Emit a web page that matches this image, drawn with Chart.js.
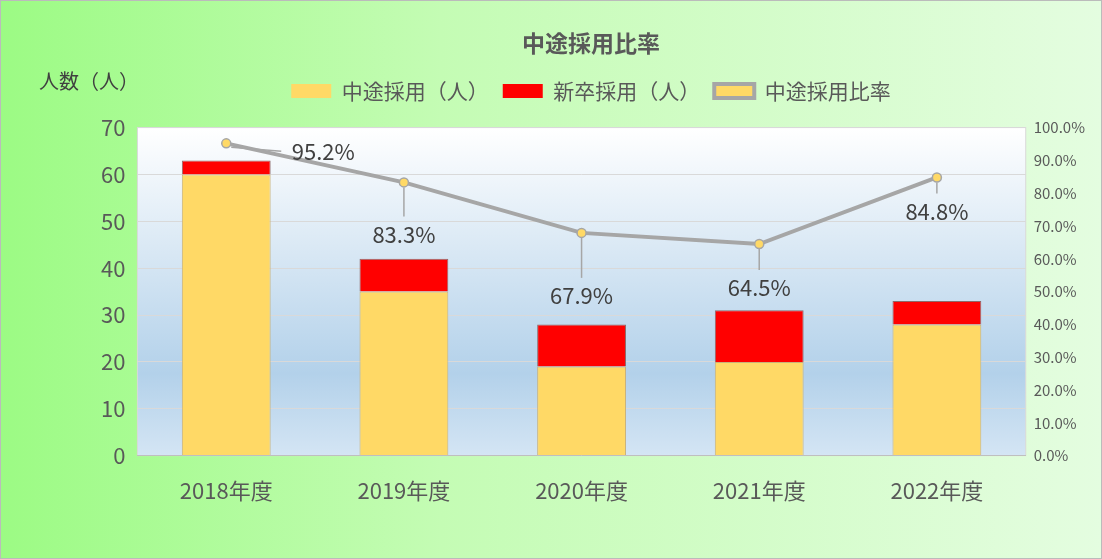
<!DOCTYPE html>
<html><head><meta charset="utf-8">
<script src="https://cdn.jsdelivr.net/npm/chart.js@4"></script>
<style>
html,body{margin:0;padding:0;}
#wrap{width:1100px;height:557px;border:1px solid #bbb;background:linear-gradient(90deg,#9cfb84 0%,#c4fcb4 40%,#e4fde0 100%);position:relative;}
</style></head><body>
<div id="wrap"><canvas id="c" width="1100" height="557"></canvas></div>
<script>
const years = ['2018年度','2019年度','2020年度','2021年度','2022年度'];
const midCareer = [60, 35, 19, 20, 28];
const newGrad = [3, 7, 9, 11, 5];
const ratio = [95.2, 83.3, 67.9, 64.5, 84.8];
// label offsets (dx, dy) from the point
const labelOffsets = [[97, 8], [0, 52], [0, 63], [0, 44], [0, 34]];

const font = '"Noto Sans CJK JP", "Noto Sans", sans-serif';

const legendGap = {
  id: 'legendGap',
  beforeInit(chart) {
    const fit = chart.legend.fit;
    chart.legend.fit = function () { fit.bind(this)(); this.height += 16; };
  }
};

const plotBg = {
  id: 'plotBg',
  beforeDraw(chart) {
    const {ctx, chartArea: a} = chart;
    const g = ctx.createLinearGradient(0, a.top, 0, a.bottom);
    g.addColorStop(0, '#ffffff');
    g.addColorStop(0.75, '#b3d1ea');
    g.addColorStop(1, '#d4e5f4');
    ctx.save();
    ctx.fillStyle = g;
    ctx.fillRect(a.left, a.top, a.right - a.left, a.bottom - a.top);
    ctx.strokeStyle = '#d9d9d9';
    ctx.strokeRect(a.left, a.top, a.right - a.left, a.bottom - a.top);
    ctx.restore();
  },
  afterDatasetsDraw(chart) {
    const {ctx} = chart;
    const meta = chart.getDatasetMeta(2);
    ctx.save();
    ctx.font = '22px ' + font;
    ctx.fillStyle = '#404040';
    ctx.textAlign = 'center';
    ctx.textBaseline = 'middle';
    meta.data.forEach((p, i) => {
      const [dx, dy] = labelOffsets[i];
      ctx.strokeStyle = '#a6a6a6';
      ctx.lineWidth = 1.5;
      ctx.beginPath();
      if (dx) { ctx.moveTo(p.x + 5, p.y + 4); ctx.lineTo(p.x + 55, p.y + dy); }
      else { ctx.moveTo(p.x, p.y + 5); ctx.lineTo(p.x, p.y + dy - 18); }
      ctx.stroke();
      ctx.fillText(ratio[i].toFixed(1) + '%', p.x + dx, p.y + dy);
    });
    ctx.fillStyle = '#404040';
    ctx.font = '20px ' + font;
    ctx.textAlign = 'left';
    ctx.fillText('人数（人）', 38, 80);
    ctx.restore();
  }
};

new Chart(document.getElementById('c'), {
  data: {
    labels: years,
    datasets: [
      {type: 'bar', label: '中途採用（人）', data: midCareer, backgroundColor: '#ffd966', borderColor: '#c9b27a', borderWidth: 1, stack: 's', yAxisID: 'y', order: 2, barPercentage: 0.5, categoryPercentage: 1},
      {type: 'bar', label: '新卒採用（人）', data: newGrad, backgroundColor: '#ff0000', borderColor: '#8c6a6a', borderWidth: 1, stack: 's', yAxisID: 'y', order: 2, barPercentage: 0.5, categoryPercentage: 1},
      {type: 'line', label: '中途採用比率', data: ratio, yAxisID: 'y2', borderColor: '#a6a6a6', borderWidth: 4, pointRadius: 4.5, pointBackgroundColor: '#ffd966', pointBorderColor: '#a6a6a6', pointBorderWidth: 1.5, order: 1}
    ]
  },
  options: {
    responsive: false, animation: false,
    layout: {padding: {left: 88, right: 8, top: 0, bottom: 40}},
    plugins: {
      title: {display: true, text: '中途採用比率', color: '#595959', font: {family: font, size: 23, weight: 'bold'}, padding: {top: 28, bottom: 10}},
      legend: {
        labels: {
          font: {family: font, size: 21}, color: '#595959', boxWidth: 40, boxHeight: 14, padding: 14,
          generateLabels(chart) {
            const ds = chart.data.datasets;
            return [
              {text: ds[0].label, fillStyle: '#ffd966', strokeStyle: '#ffd966', lineWidth: 0, datasetIndex: 0, fontColor: '#595959'},
              {text: ds[1].label, fillStyle: '#ff0000', strokeStyle: '#ff0000', lineWidth: 0, datasetIndex: 1, fontColor: '#595959'},
              {text: ds[2].label, fillStyle: '#ffd966', strokeStyle: '#a6a6a6', lineWidth: 4, datasetIndex: 2, fontColor: '#595959'}
            ];
          }
        }
      },
      tooltip: {enabled: false}
    },
    scales: {
      x: {stacked: true, grid: {display: false}, border: {color: '#bfbfbf'}, ticks: {color: '#595959', font: {family: font, size: 22}, padding: 14}},
      y: {stacked: true, min: 0, max: 70, ticks: {stepSize: 10, color: '#595959', font: {family: font, size: 22}, padding: 12}, grid: {color: '#d9d9d9', drawTicks: false}, border: {display: false}},
      y2: {position: 'right', min: 0, max: 100, ticks: {stepSize: 10, color: '#595959', font: {family: font, size: 15}, callback: v => v.toFixed(1) + '%', padding: 8}, grid: {display: false, drawTicks: false}, border: {display: false}}
    }
  },
  plugins: [legendGap, plotBg]
});
</script>
</body></html>
